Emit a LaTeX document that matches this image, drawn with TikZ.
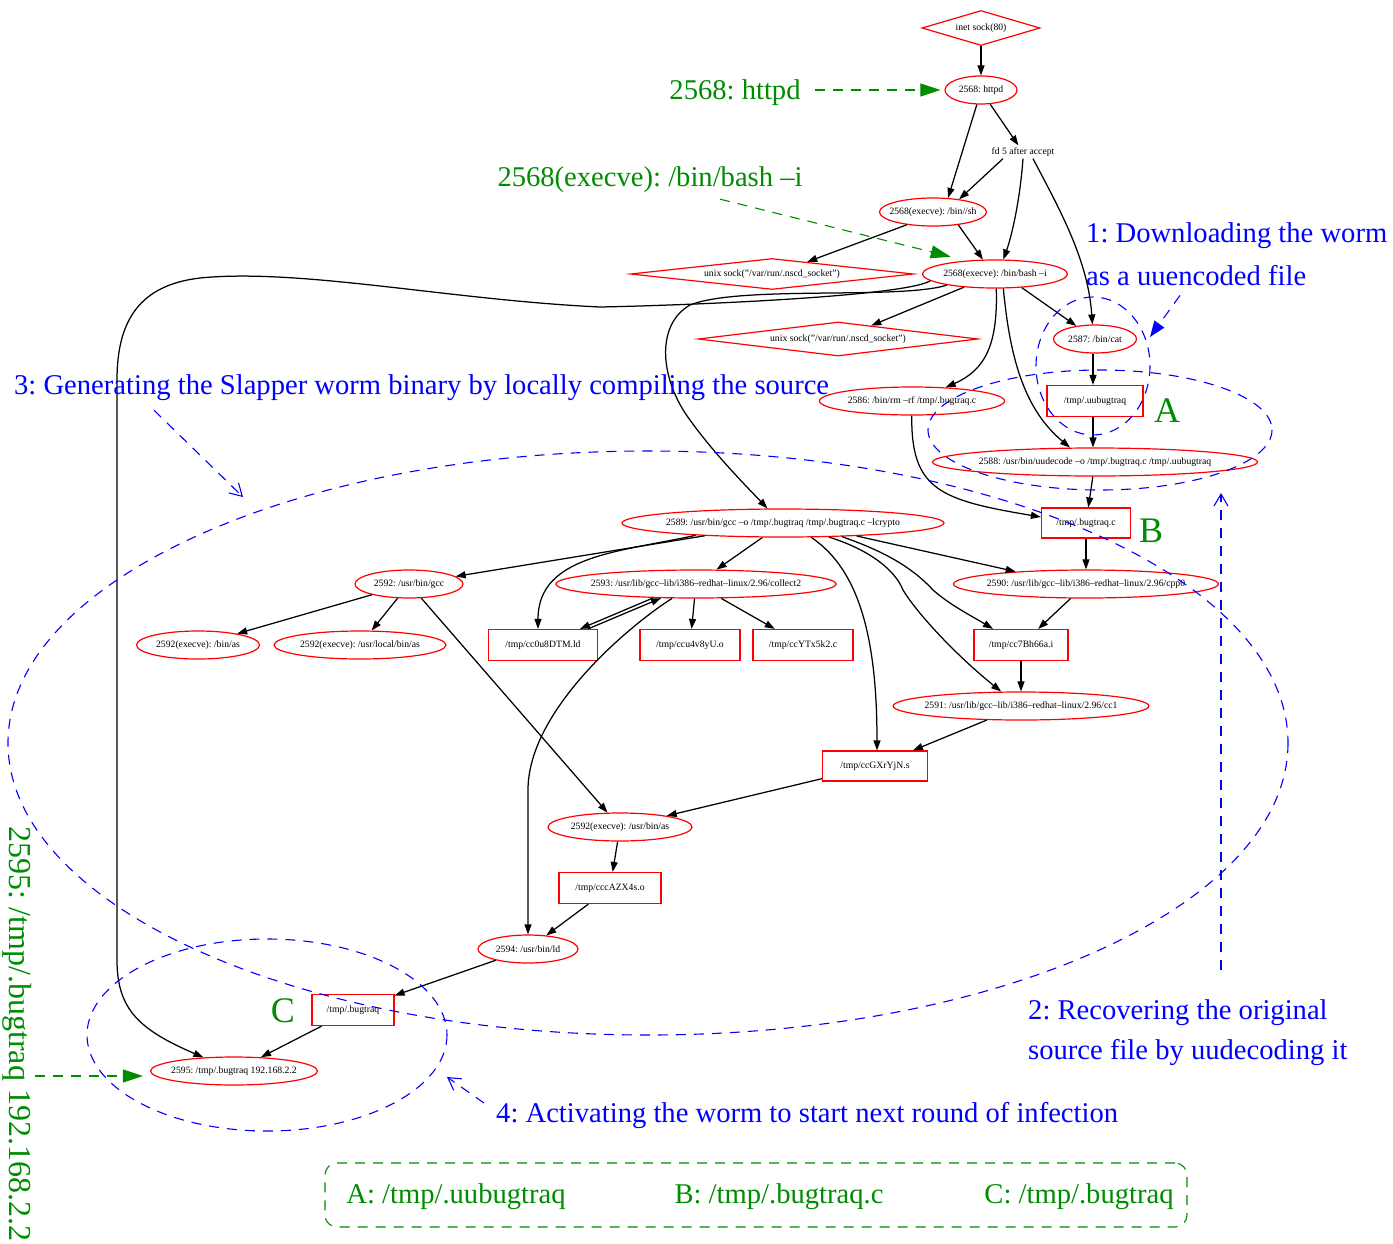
\documentclass[tikz,border=0pt]{standalone}
\usepackage{fontspec}
\setmainfont{Liberation Serif}
\frenchspacing
\usetikzlibrary{shapes.geometric,arrows.meta}
\definecolor{ngreen}{RGB}{0,140,0}
\begin{document}
\begin{tikzpicture}[x=1pt,y=-1pt,
  smallfont/.style={font=\fontsize{9.7}{11}\selectfont},
  proc/.style={ellipse,draw=red,line width=1.2pt,inner xsep=-6pt,inner ysep=0pt,minimum height=28pt,smallfont},
  file/.style={rectangle,draw=red,line width=1.2pt,inner sep=0pt,minimum height=31pt,smallfont},
  sock/.style={diamond,draw=red,line width=1.2pt,inner sep=0pt,smallfont},
  edge/.style={-{Triangle[length=10pt,width=7pt]},line width=1.25pt},
  gtext/.style={text=ngreen,inner sep=0pt,font=\fontsize{28.6}{30}\selectfont},
  btext/.style={text=blue,inner sep=0pt,anchor=west,font=\fontsize{28.6}{30}\selectfont},
  tag/.style={text=ngreen,inner sep=0pt,font=\fontsize{36}{38}\selectfont},
  garrow/.style={draw=ngreen,line width=1.1pt,dash pattern=on 10pt off 8pt,-{Triangle[length=20pt,width=13pt]}},
  barrow/.style={draw=blue,line width=1.1pt,dash pattern=on 10pt off 8pt,-{Straight Barb[length=12pt,width=14pt]}},
  bdash/.style={draw=blue,line width=1.1pt,dash pattern=on 10pt off 8pt},
]
\useasboundingbox (0,0) rectangle (1393,1243);

% ---------- process graph ----------
\node[sock,aspect=3.37,minimum width=118pt,minimum height=35pt] (sock80) at (981,28) {inet sock(80)};
\node[proc,minimum width=72pt] (httpd) at (981,90) {2568: httpd};
\node[inner sep=2pt,smallfont] (fd5) at (1023,152) {fd 5 after accept};
\node[proc,minimum width=107pt] (sh) at (933,212) {2568(execve): /bin//sh};
\node[sock,aspect=9.1,minimum width=283pt,minimum height=31pt] (nscd1) at (772,274) {unix sock("/var/run/.nscd\_socket")};
\node[proc,minimum width=145pt] (bash) at (995,274) {2568(execve): /bin/bash –i};
\node[sock,aspect=8.2,minimum width=280pt,minimum height=34pt] (nscd2) at (838,339) {unix sock("/var/run/.nscd\_socket")};
\node[proc,minimum width=83pt] (cat) at (1095,339) {2587: /bin/cat};
\node[file,minimum width=96pt] (uubug) at (1095,401) {/tmp/.uubugtraq};
\node[proc,minimum width=185pt] (rm) at (912,401) {2586: /bin/rm –rf /tmp/.bugtraq.c};
\node[proc,minimum width=325pt] (uudecode) at (1095,462) {2588: /usr/bin/uudecode –o /tmp/.bugtraq.c /tmp/.uubugtraq};
\node[file,minimum width=89pt,minimum height=30pt] (bugc) at (1086,523) {/tmp/.bugtraq.c};
\node[proc,minimum width=322pt] (gcc) at (783,523) {2589: /usr/bin/gcc –o /tmp/.bugtraq /tmp/.bugtraq.c –lcrypto};
\node[proc,minimum width=108pt] (gccb) at (409,584) {2592: /usr/bin/gcc};
\node[proc,minimum width=278pt] (collect) at (696,584) {2593: /usr/lib/gcc–lib/i386–redhat–linux/2.96/collect2};
\node[proc,minimum width=265pt] (cpp) at (1086,584) {2590: /usr/lib/gcc–lib/i386–redhat–linux/2.96/cpp0};
\node[proc,minimum width=123pt] (binas) at (198,645) {2592(execve): /bin/as};
\node[proc,minimum width=172pt] (localas) at (360,645) {2592(execve): /usr/local/bin/as};
\node[file,minimum width=109pt] (ldfile) at (543,645) {/tmp/cc0u8DTM.ld};
\node[file,minimum width=100pt] (ofile) at (690,645) {/tmp/ccu4v8yU.o};
\node[file,minimum width=100pt] (cfile) at (803,645) {/tmp/ccYTx5k2.c};
\node[file,minimum width=94pt] (ifile) at (1021,645) {/tmp/cc7Bh66a.i};
\node[proc,minimum width=250pt] (cc1) at (1021,706) {2591: /usr/lib/gcc–lib/i386–redhat–linux/2.96/cc1};
\node[file,minimum width=105pt,minimum height=30pt] (sfile) at (875,766) {/tmp/ccGXrYjN.s};
\node[proc,minimum width=144pt] (usras) at (620,827) {2592(execve): /usr/bin/as};
\node[file,minimum width=102pt] (azfile) at (610,888) {/tmp/cccAZX4s.o};
\node[proc,minimum width=100pt] (ld) at (528,949) {2594: /usr/bin/ld};
\node[file,minimum width=82pt] (binfile) at (353,1010) {/tmp/.bugtraq};
\node[proc,minimum width=167pt] (final) at (234,1071) {2595: /tmp/.bugtraq 192.168.2.2};

% ---------- edges ----------
\draw[edge] (sock80) -- (httpd);
\draw[edge] (httpd.254) -- (sh.43);
\draw[edge] (httpd.303) -- (fd5.125);
\draw[edge] ([xshift=-20pt]fd5.south) -- (sh.26);
\draw[edge] (fd5.south) .. controls (1020,200) and (1012,235) .. (bash.60);
\draw[edge] ([xshift=10pt]fd5.south) .. controls (1060,210) and (1088,260) .. (cat.100);
\draw[edge] (sh.206) -- (nscd1.19);
\draw[edge] (sh.-27) -- (bash.130);
\draw[edge] (bash.203) -- (nscd2.22);
\draw[edge] (bash.-27) -- (cat.145);
\draw[edge] (bash.-85) .. controls (998,345) and (985,370) .. (rm.22);
\draw[edge] (bash.-60) .. controls (1010,360) and (1025,410) .. (uudecode.150);
\draw[edge] (bash.193) .. controls (900,300) and (740,285) .. (690,305)
   .. controls (655,325) and (660,380) .. (690,420)
   .. controls (715,455) and (750,490) .. (gcc.137);
\draw[edge] (bash.186) .. controls (905,296) and (700,305) .. (600,307)
   .. controls (450,300) and (300,268) .. (200,278)
   .. controls (140,285) and (117,320) .. (117,380)
   -- (117,960) .. controls (117,1010) and (140,1030) .. (final.156);
\draw[edge] (rm.-91) .. controls (911,490) and (940,500) .. ([yshift=6pt]bugc.west);
\draw[edge] ([xshift=-2pt]cat.south) -- ([xshift=-2pt]uubug.north);
\draw[edge] ([xshift=-2pt]uubug.south) -- ([xshift=-2pt]uudecode.north);
\draw[edge] (uudecode) -- (bugc);
\draw[edge] (bugc) -- (cpp);
\draw[edge] (cpp) -- (ifile);
\draw[edge] (ifile) -- (cc1);
\draw[edge] (cc1) -- (sfile);
\draw[edge] (sfile) -- (usras);
\draw[edge] (usras) -- (azfile);
\draw[edge] (azfile) -- (ld);
\draw[edge] (ld) -- (binfile);
\draw[edge] (binfile) -- (final);
\draw[edge] (gcc) -- (gccb);
\draw[edge] (gcc.188) .. controls (620,552) and (538,555) .. ([xshift=-5pt]ldfile.north);
\draw[edge] (gcc) -- (collect);
\draw[edge] (gcc.-27) .. controls (860,570) and (877,640) .. ([xshift=2pt]sfile.north);
\draw[edge] (gcc.-17) .. controls (870,550) and (895,570) .. (903,590)
   .. controls (915,610) and (950,650) .. (cc1.144);
\draw[edge] (gcc.-13) .. controls (880,550) and (910,565) .. (933,590)
   .. controls (950,605) and (970,615) .. ([xshift=-28pt]ifile.north);
\draw[edge] (gcc.-10) -- (cpp.170);
\draw[edge] (gccb) -- (binas);
\draw[edge] (gccb) -- (localas);
\draw[edge] (gccb) -- (usras);
\draw[edge] (collect.198) -- ([xshift=37pt]ldfile.north);
\draw[edge] ([xshift=45pt]ldfile.north) -- (collect.202);
\draw[edge] (collect) -- (ofile);
\draw[edge] (collect) -- (cfile);
\draw[edge] (collect.211) .. controls (630,625) and (528,710) .. (528,790) -- (ld);

% ---------- highlighted regions ----------
\draw[bdash] (1093,366) ellipse [x radius=57, y radius=69];
\draw[bdash] (1100,430) ellipse [x radius=172, y radius=60];
\draw[bdash] (648,743) ellipse [x radius=640, y radius=292];
\draw[bdash] (267,1035) ellipse [x radius=180, y radius=96];

\node[tag] (tagA) at (1167,411) {A};
\node[tag] (tagB) at (1151,531) {B};
\node[tag] (tagC) at (283,1011) {C};

% ---------- annotations ----------
\node[gtext] (lhttpd) at (735,93) {2568: httpd};
\draw[garrow] ([xshift=14pt,yshift=3pt]lhttpd.east) -- ([xshift=-4pt]httpd.west);
\node[gtext] (lbash) at (650,180) {2568(execve): /bin/bash –i};
\draw[garrow,shorten >=16pt] ([xshift=70pt,yshift=-6pt]lbash.south) -- (bash.155);

\node[btext] (l1a) at (1086,236) {1: Downloading the worm};
\node[btext] (l1b) at (1086,276) {as a uuencoded file};
\coordinate (a1) at (1150,337);
\draw[draw=blue,line width=1.1pt,dash pattern=on 10pt off 8pt,-{Triangle[length=16pt,width=12pt]}]
  ([xshift=94pt,yshift=-9pt]l1b.south west) -- (a1);

\node[btext] (l3) at (14,388) {3: Generating the Slapper worm binary by locally compiling the source};
\coordinate (a3) at (243,497);
\draw[barrow] ([xshift=140pt,yshift=-9pt]l3.south west) -- (a3);

\node[btext] (l2a) at (1028,1013) {2: Recovering the original};
\node[btext] (l2b) at (1028,1053) {source file by uudecoding it};
\coordinate (a2s) at (1221,970);
\coordinate (a2) at (1221,493);
\draw[barrow] (a2s) -- (a2);

\node[btext] (l4) at (496,1116) {4: Activating the worm to start next round of infection};
\coordinate (a4) at (447,1077);
\draw[barrow] ([xshift=-12pt,yshift=13pt]l4.west) -- (a4);

\node[gtext,rotate=-90,font=\fontsize{32}{34}\selectfont] (lfinal) at (17,1034) {2595: /tmp/.bugtraq 192.168.2.2};
\coordinate (gfs) at (35,1076);
\draw[garrow,shorten >=7pt] (gfs) -- ([yshift=-5pt]final.west);

% ---------- legend ----------
\node[draw=ngreen,line width=1.1pt,dash pattern=on 10pt off 8pt,rounded corners=12pt,
      minimum width=862pt,minimum height=64pt] (legend) at (756,1195) {};
\node[gtext] (legA) at (456,1197) {A: /tmp/.uubugtraq};
\node[gtext] (legB) at (779,1197) {B: /tmp/.bugtraq.c};
\node[gtext] (legC) at (1079,1197) {C: /tmp/.bugtraq};
\end{tikzpicture}
\end{document}
